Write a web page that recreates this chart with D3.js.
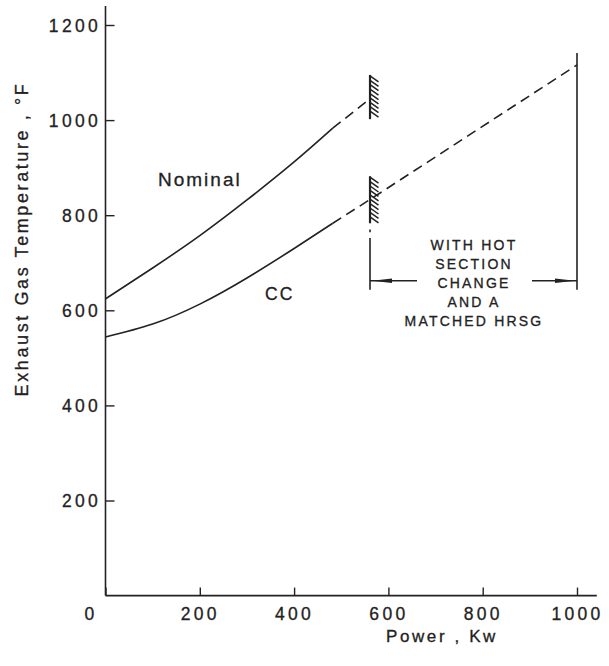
<!DOCTYPE html>
<html><head><meta charset="utf-8">
<script src="https://cdn.jsdelivr.net/npm/d3@7"></script>
<style>
body{margin:0;background:#fff;}
text{font-family:"Liberation Sans",Arial,sans-serif;fill:#222;stroke:#222;stroke-width:0.3;}
</style></head>
<body><svg id="c" width="609" height="666"></svg>
<script>
// ---- data ----
const xTicks = [0, 200, 400, 600, 800, 1000];
const yTicks = [200, 400, 600, 800, 1000, 1200];
const nominalX = [0, 100, 200, 300, 400, 482];
const nominalY = [624, 689, 757, 832, 912, 983];
const nominalDashX = [482, 561];
const nominalDashY = [983, 1045];
const ccX = [0, 100, 200, 300, 400, 482];
const ccY = [544, 571, 613, 668, 730, 783];
const ccDashX = [482, 561, 1000];
const ccDashY = [783, 833, 1116];
const noteLines = ["WITH HOT", "SECTION", "CHANGE", "AND A", "MATCHED HRSG"];
const hatchX = 561;
const hatchTop = [1002, 1095];
const hatchBottom = [783, 882];
const limitX = 1000;
const arrowY = 662;

// ---- scales ----
const svg = d3.select("#c");
const x = d3.scaleLinear().domain([0, 1000]).range([105.5, 577]);
const y = d3.scaleLinear().domain([0, 1200]).range([595.6, 25]);
const ink = "#222";
const fam = '"Liberation Sans",Arial,sans-serif';

// axes
const gx = svg.append("g").attr("transform", `translate(0,${y(0)})`)
  .call(d3.axisBottom(x).tickValues(xTicks).tickFormat(d3.format("d"))
    .tickSize(-8).tickPadding(0).tickSizeOuter(0));
gx.select(".domain").attr("d", `M${x(0)},0H${x(1042)}`);
const gy = svg.append("g").attr("transform", `translate(${x(0)},0)`)
  .call(d3.axisLeft(y).tickValues(yTicks).tickFormat(d3.format("d"))
    .tickSize(-9).tickPadding(8).tickSizeOuter(0));
gy.select(".domain").attr("d", `M0,${y(0)}V${y(1240)}`);
svg.selectAll(".domain").attr("stroke", ink).attr("stroke-width", 1.6);
svg.selectAll(".tick line").attr("stroke", ink).attr("stroke-width", 1.4);
svg.selectAll(".tick text").attr("font-size", 17.5)
  .attr("letter-spacing", 3.3).attr("fill", ink).attr("stroke", ink).attr("stroke-width", 0.3)
  .style("font-family", fam);
gx.selectAll(".tick text").attr("dy", null).attr("y", 24).attr("dx", 0);
gx.selectAll(".tick").filter(d => d === 0).select("text").attr("dx", -15);
gy.selectAll(".tick text").attr("dx", 3.5).attr("dy", "0.36em");

// axis titles
svg.append("text").attr("transform", `translate(28,239) rotate(-90)`)
  .attr("text-anchor", "middle").attr("font-size", 18)
  .attr("letter-spacing", 2.6).text("Exhaust Gas Temperature , °F");
svg.append("text").attr("x", 442).attr("y", 642).attr("text-anchor", "middle")
  .attr("font-size", 17).attr("letter-spacing", 2.6)
  .text("Power , Kw");

// curves
const line = d3.line().x(d => x(d[0])).y(d => y(d[1])).curve(d3.curveNatural);
const straight = d3.line().x(d => x(d[0])).y(d => y(d[1]));
function draw(xs, ys, gen, dash) {
  svg.append("path").attr("d", gen(d3.zip(xs, ys))).attr("fill", "none")
    .attr("stroke", ink).attr("stroke-width", 1.6)
    .attr("stroke-dasharray", dash || null);
}
draw(nominalX, nominalY, line);
draw(ccX, ccY, line);
draw(nominalDashX, nominalDashY, straight, "10,6");
draw(ccDashX, ccDashY, straight, "10,6");

// curve labels
svg.append("text").attr("x", 158).attr("y", 186).attr("font-size", 19)
  .attr("letter-spacing", 2).text("Nominal");
svg.append("text").attr("x", 265).attr("y", 300).attr("font-size", 17.5)
  .attr("letter-spacing", 2).text("CC");

// hatched limits
function hatch(range) {
  const hx = x(hatchX), y0 = y(range[1]), y1 = y(range[0]);
  svg.append("line").attr("x1", hx).attr("x2", hx).attr("y1", y0).attr("y2", y1)
    .attr("stroke", ink).attr("stroke-width", 2.2);
  const g = svg.append("g");
  for (let yy = y0 + 1; yy < y1 - 4; yy += 4.4) {
    g.append("line").attr("x1", hx).attr("y1", yy).attr("x2", hx + 8.5).attr("y2", yy + 6)
      .attr("stroke", ink).attr("stroke-width", 1.5);
  }
}
hatch(hatchTop);
hatch(hatchBottom);

// vertical boundary lines
svg.append("line").attr("x1", x(hatchX)).attr("x2", x(hatchX))
  .attr("y1", y(752)).attr("y2", y(643)).attr("stroke", ink).attr("stroke-width", 1.6);
svg.append("line").attr("x1", x(hatchX)).attr("x2", x(hatchX))
  .attr("y1", y(770)).attr("y2", y(764)).attr("stroke", ink).attr("stroke-width", 1.6);
svg.append("line").attr("x1", x(limitX)).attr("x2", x(limitX))
  .attr("y1", y(1141)).attr("y2", y(643)).attr("stroke", ink).attr("stroke-width", 1.6);

// dimension arrows
const ay = y(arrowY);
svg.append("line").attr("x1", x(hatchX)).attr("x2", 417).attr("y1", ay).attr("y2", ay)
  .attr("stroke", ink).attr("stroke-width", 1.5);
svg.append("line").attr("x1", 532).attr("x2", x(limitX)).attr("y1", ay).attr("y2", ay)
  .attr("stroke", ink).attr("stroke-width", 1.5);
const ah = d3.line();
svg.append("path").attr("d", ah([[x(hatchX) + 2, ay], [x(hatchX) + 22, ay - 2.2], [x(hatchX) + 22, ay + 2.2]]) + "Z").attr("fill", ink);
svg.append("path").attr("d", ah([[x(limitX) - 2, ay], [x(limitX) - 22, ay - 2.2], [x(limitX) - 22, ay + 2.2]]) + "Z").attr("fill", ink);

// note
svg.append("g").selectAll("text").data(noteLines).join("text")
  .attr("x", 474).attr("y", (d, i) => 250 + i * 19).attr("text-anchor", "middle")
  .attr("font-size", 14).attr("letter-spacing", 2.2)
  .text(d => d);
</script></body></html>
